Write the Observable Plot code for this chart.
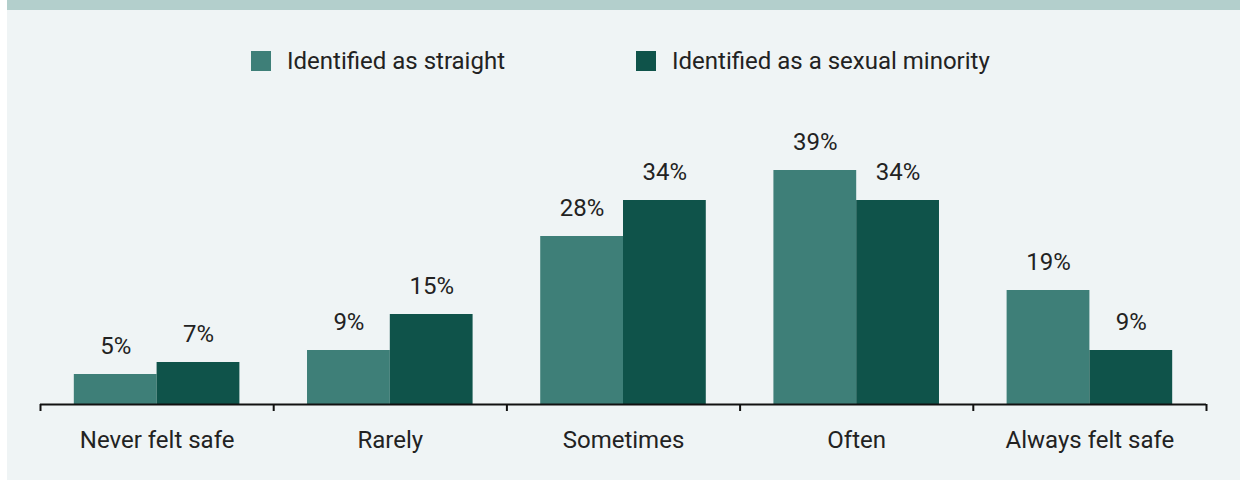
<!DOCTYPE html>
<html>
<head>
<meta charset="utf-8">
<script src="https://cdn.jsdelivr.net/npm/d3@7"></script>
<script src="https://cdn.jsdelivr.net/npm/@observablehq/plot@0.6"></script>
<style>
  html, body { margin: 0; padding: 0; background: #ffffff; }
  #panel {
    position: absolute; left: 7px; top: 0; width: 1233px; height: 470px;
    background: #eff4f5; border-top: 10px solid #b3cfcc;
    font-family: Roboto, "Noto Sans", sans-serif; color: #222;
  }
  #legend { position: relative; height: 80px; }
  .item { position: absolute; top: 41px; height: 20px; display: flex; align-items: center; font-size: 24px; white-space: nowrap; }
  .sw { width: 20px; height: 20px; margin-right: 16px; flex: none; }
  #chart svg { display: block; }
</style>
</head>
<body>
<div id="panel">
  <div id="legend"></div>
  <div id="chart"></div>
</div>
<script>
const categories = ["Never felt safe", "Rarely", "Sometimes", "Often", "Always felt safe"];
const seriesNames = ["Identified as straight", "Identified as a sexual minority"];
const straight = [5, 9, 28, 39, 19];
const minority = [7, 15, 34, 34, 9];
const colors = ["#3e7f78", "#0f534a"];

const rows = [];
categories.forEach((c, i) => {
  rows.push({cat: c, i, s: 0, series: seriesNames[0], value: straight[i]});
  rows.push({cat: c, i, s: 1, series: seriesNames[1], value: minority[i]});
});

// legend
const legend = document.getElementById("legend");
const legendLeft = [244, 629];
seriesNames.forEach((name, k) => {
  const it = document.createElement("div");
  it.className = "item";
  it.style.left = legendLeft[k] + "px";
  it.innerHTML = `<span class="sw" style="background:${colors[k]}"></span><span>${name}</span>`;
  legend.appendChild(it);
});

const pad = 0.145;
const chart = Plot.plot({
  width: 1233,
  height: 390,
  marginLeft: 33,
  marginRight: 34,
  marginTop: 74,
  marginBottom: 76,
  style: {background: "transparent", fontFamily: "Roboto, 'Noto Sans', sans-serif", color: "#111"},
  x: {domain: [0, categories.length], axis: null},
  y: {domain: [0, 40], axis: null},
  marks: [
    Plot.rectY(rows, {
      x1: d => d.i + (d.s === 0 ? pad : 0.5),
      x2: d => d.i + (d.s === 0 ? 0.5 : 1 - pad),
      y: "value",
      fill: d => colors[d.s]
    }),
    Plot.text(rows, {
      x: d => d.i + (d.s === 0 ? (pad + 0.5) / 2 : (0.5 + 1 - pad) / 2),
      y: "value",
      text: d => d.value + "%",
      lineAnchor: "bottom",
      dy: -21,
      fontSize: 24,
      fill: "#222"
    }),
    Plot.ruleY([0], {stroke: "#111", strokeWidth: 2}),
    Plot.axisX({ticks: d3.range(categories.length + 1), tickSize: 7, tickFormat: () => "", strokeWidth: 2, label: null, stroke: "#111"}),
    Plot.text(categories, {
      x: (d, i) => i + 0.5,
      y: 0,
      text: d => d,
      dy: 43,
      lineAnchor: "bottom",
      fontSize: 24,
      fill: "#222"
    })
  ]
});
document.getElementById("chart").appendChild(chart);
</script>
</body>
</html>
